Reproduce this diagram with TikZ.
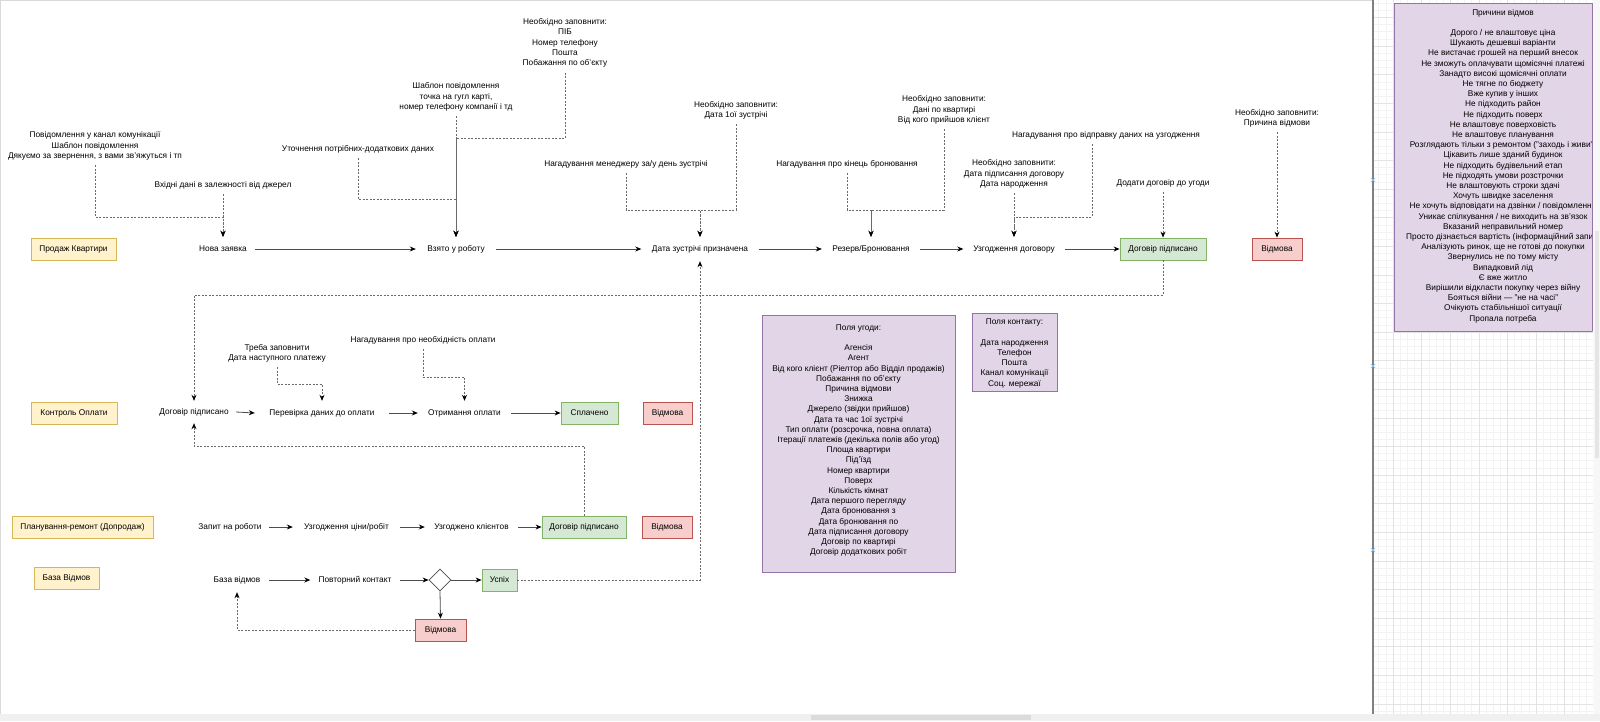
\documentclass[tikz,border=0pt]{standalone}
\usepackage{fontspec}
\setmainfont{Liberation Sans}
\usetikzlibrary{arrows.meta,shapes.geometric,calc}
\definecolor{yfill}{HTML}{FFF2CC}\definecolor{ydraw}{HTML}{D6B656}
\definecolor{gfill}{HTML}{D5E8D4}\definecolor{gdraw}{HTML}{82B366}
\definecolor{rfill}{HTML}{F8CECC}\definecolor{rdraw}{HTML}{B85450}
\definecolor{pfill}{HTML}{E1D5E7}\definecolor{pdraw}{HTML}{9673A6}
\definecolor{lineC}{HTML}{4D4D4D}\definecolor{dashC}{HTML}{6A6A6A}
\definecolor{gridminor}{HTML}{F3F3F3}\definecolor{gridmajor}{HTML}{E3E3E3}
\definecolor{markC}{HTML}{8CC4F0}
\newcommand\myfs{\fontsize{8.3}{10.2}\selectfont}
\begin{document}
\begin{tikzpicture}[x=1pt,y=-1pt,
  txt/.style={font=\myfs, align=center, inner xsep=0pt, inner ysep=5pt},
  lbl/.style={font=\myfs, align=center, inner sep=0pt, minimum height=24pt, text height=6pt, text depth=1.6pt},
  box/.style={font=\myfs, draw, line width=0.8pt, minimum height=22pt, inner sep=0pt, text height=6pt, text depth=1.6pt},
  ybox/.style={box, fill=yfill, draw=ydraw},
  gbox/.style={box, fill=gfill, draw=gdraw},
  rbox/.style={box, fill=rfill, draw=rdraw},
  pbox/.style={font=\myfs, align=center, draw=pdraw, fill=pfill, line width=0.8pt, inner sep=0pt},
  flow/.style={draw=lineC, line width=0.8pt, -{Stealth[length=6pt,width=5pt,color=black]}},
  dflow/.style={draw=dashC, line width=0.8pt, dash pattern=on 2pt off 1.5pt, -{Stealth[length=6pt,width=5pt,color=black]}},
]
\useasboundingbox (0,0) rectangle (1600,721);
\fill[white] (0,0) rectangle (1600,721);

% ---------- right panel grid ----------
\begin{scope}
\clip (1374,0) rectangle (1593,714);
\foreach \i in {-3,...,28} {\draw[gridminor, line width=0.5pt] (1393+\i*7.15,0) -- (1393+\i*7.15,714);}
\foreach \j in {-47,...,55} {\draw[gridminor, line width=0.5pt] (1374,332+\j*7.15) -- (1593,332+\j*7.15);}
\foreach \i in {-1,...,7} {\draw[gridmajor, line width=0.6pt] (1393+\i*28.6,0) -- (1393+\i*28.6,714);}
\foreach \j in {-12,...,14} {\draw[gridmajor, line width=0.6pt] (1374,332+\j*28.6) -- (1593,332+\j*28.6);}
\end{scope}

% frame and scroll bars
\draw[black!15, line width=0.6pt] (0.5,714) -- (0.5,0.5) -- (1373,0.5);
\fill[black!6] (0,714) rectangle (1600,721);
\fill[black!14] (811,715) rectangle (1031,720);
\fill[black!3] (1594,0) rectangle (1600,714);
\fill[black!10] (1595,231) rectangle (1599,458);
\draw[black!50, line width=1.6pt] (1373,0) -- (1373,714);
\foreach \yy in {180,366,550} {
  \draw[markC, line width=0.7pt] (1371,\yy-2) -- (1375,\yy+2) (1371,\yy+2) -- (1375,\yy-2);
}

% ---------- Причини відмов ----------
\begin{scope}
\clip (1374,0) rectangle (1592.5,714);
\draw[pdraw, fill=pfill, line width=0.8pt] (1394,3) rectangle (1620,331);
\node[font=\myfs, align=center, inner sep=0pt] (f3) at (1503,166) {Причини відмов\\[10.2pt]Дорого / не влаштовує ціна\\Шукають дешевші варіанти\\Не вистачає грошей на перший внесок\\Не зможуть оплачувати щомісячні платежі\\Занадто високі щомісячні оплати\\Не тягне по бюджету\\Вже купив у інших\\Не підходить район\\Не підходить поверх\\Не влаштовує поверховість\\Не влаштовує планування\\Розглядають тільки з ремонтом ("заходь і живи")\\Цікавить лише зданий будинок\\Не підходить будівельний етап\\Не підходять умови розстрочки\\Не влаштовують строки здачі\\Хочуть швидке заселення\\Не хочуть відповідати на дзвінки / повідомлення\\Уникає спілкування / не виходить на зв'язок\\Вказаний неправильний номер\\Просто дізнається вартість (інформаційний запит)\\Аналізують ринок, ще не готові до покупки\\Звернулись не по тому місту\\Випадковий лід\\Є вже житло\\Вирішили відкласти покупку через війну\\Бояться війни — "не на часі"\\Очікують стабільнішої ситуації\\Пропала потреба};
\end{scope}
\draw[pdraw, line width=0.8pt] (1592,3) -- (1592,331);

% ---------- row 1: Продаж Квартири ----------
\node[ybox, minimum width=85pt] (L1) at (73.5,249) {Продаж Квартири};
\node[lbl, minimum width=64pt] (n1) at (223,249) {Нова заявка};
\node[lbl, minimum width=80pt] (n2) at (456,249) {Взято у роботу};
\node[lbl, minimum width=117pt] (n3) at (700,249) {Дата зустрічі призначена};
\node[lbl, minimum width=98pt] (n4) at (871,249) {Резерв/Бронювання};
\node[lbl, minimum width=101pt] (n5) at (1014,249) {Узгодження договору};
\node[gbox, minimum width=86pt] (n6) at (1163,249) {Договір підписано};
\node[rbox, minimum width=50pt] (n7) at (1277,249) {Відмова};

\node[txt] (a1) at (95,146) {Повідомлення у канал комунікації\\Шаблон повідомлення\\Дякуємо за звернення, з вами зв'яжуться і тп};
\node[txt] (a2) at (223,185) {Вхідні дані в залежності від джерел};
\node[txt] (a3) at (565,43) {Необхідно заповнити:\\ПІБ\\Номер телефону\\Пошта\\Побажання по об'єкту};
\node[txt] (a4) at (456,97) {Шаблон повідомлення\\точка на гугл карті,\\номер телефону компанії і тд};
\node[txt] (a5) at (358,149) {Уточнення потрібних-додаткових даних};
\node[txt] (a6) at (626,164) {Нагадування менеджеру за/у день зустрічі};
\node[txt] (a7) at (736,110) {Необхідно заповнити:\\Дата 1ої зустрічі};
\node[txt] (a8) at (847,164) {Нагадування про кінець бронювання};
\node[txt] (a9) at (944,110) {Необхідно заповнити:\\Дані по квартирі\\Від кого прийшов клієнт};
\node[txt] (a10) at (1014,174) {Необхідно заповнити:\\Дата підписання договору\\Дата народження};
\node[txt] (a11) at (1106,135) {Нагадування про відправку даних на узгодження};
\node[txt] (a12) at (1163,183) {Додати договір до угоди};
\node[txt] (a13) at (1277,118) {Необхідно заповнити:\\Причина відмови};

\draw[flow] (n1.east) -- (n2.west);
\draw[flow] (n2.east) -- (n3.west);
\draw[flow] (n3.east) -- (n4.west);
\draw[flow] (n4.east) -- (n5.west);
\draw[flow] (n5.east) -- (n6.west);

\draw[dflow] (a1.south) |- (223,217) -- (n1.north);
\draw[dflow] (a2.south) -- (n1.north);
\draw[dflow] (a3.south) |- (456,138) -- (n2.north);
\draw[dflow] (a4.south) -- (n2.north);
\draw[dflow] (a5.south) |- (456,199) -- (n2.north);
\draw[dflow] (a6.south) |- (700,210) -- (n3.north);
\draw[dflow] (a7.south) |- (700,210) -- (n3.north);
\draw[dflow] (a8.south) |- (871,210) -- (n4.north);
\draw[dflow] (a9.south) |- (871,210) -- (n4.north);
\draw[dflow] (a10.south) -- (n5.north);
\draw[dflow] ([xshift=-14pt]a11.south) |- (1014,217) -- (n5.north);
\draw[dflow] (a12.south) -- (n6.north);
\draw[dflow] (a13.south) -- (n7.north);

% ---------- row 2: Контроль Оплати ----------
\node[ybox, minimum width=86pt] (L2) at (74,413) {Контроль Оплати};
\node[lbl, minimum width=84pt, minimum height=22pt] (p1) at (194,412) {Договір підписано};
\node[lbl, minimum width=134pt] (p2) at (322,413) {Перевірка даних до оплати};
\node[lbl, minimum width=93pt] (p3) at (464.5,413) {Отримання оплати};
\node[gbox, minimum width=57pt] (p4) at (589.5,413) {Сплачено};
\node[rbox, minimum width=49pt] (p5) at (667.5,413) {Відмова};

\node[txt] (b1) at (277,353) {Треба заповнити\\Дата наступного платежу};
\node[txt] (b2) at (423,340) {Нагадування про необхідність оплати};

\draw[flow] (p1.east) -- (p2.west);
\draw[flow] (p2.east) -- (p3.west);
\draw[flow] (p3.east) -- (p4.west);
\draw[dflow] (b1.south) |- (322,384) -- (p2.north);
\draw[dflow] (b2.south) |- (464.5,377) -- (p3.north);
\draw[dflow] (n6.south) -- (1163,295) -| (p1.north);

% ---------- row 3: Планування-ремонт ----------
\node[ybox, minimum width=141pt] (L3) at (82.5,527) {Планування-ремонт (Допродаж)};
\node[lbl, minimum width=78pt] (q1) at (230,527) {Запит на роботи};
\node[lbl, minimum width=107pt] (q2) at (346.5,527) {Узгодження ціни/робіт};
\node[lbl, minimum width=93pt] (q3) at (471.5,527) {Узгоджено клієнтов};
\node[gbox, minimum width=84pt] (q4) at (584,527) {Договір підписано};
\node[rbox, minimum width=50pt] (q5) at (667,527) {Відмова};

\draw[flow] (q1.east) -- (q2.west);
\draw[flow] (q2.east) -- (q3.west);
\draw[flow] (q3.east) -- (q4.west);
\coordinate (k1) at (194,446);
\draw[dflow] (q4.north) |- (k1) -- (p1.south);

% ---------- row 4: База Відмов ----------
\node[ybox, minimum width=65pt] (L4) at (66.5,578) {База Відмов};
\node[lbl, minimum width=64pt] (r1) at (237,580) {База відмов};
\node[lbl, minimum width=89pt] (r2) at (355,580) {Повторний контакт};
\node[diamond, draw=lineC, fill=white, line width=0.8pt, minimum width=22pt, minimum height=22pt, inner sep=0pt] (d) at (440,580) {};
\node[gbox, minimum width=35pt] (r3) at (499.5,580) {Успіх};
\node[rbox, minimum width=51pt] (r4) at (440.5,630) {Відмова};

\draw[flow] (r1.east) -- (r2.west);
\draw[flow] (r2.east) -- (d.west);
\draw[flow] (d.east) -- (r3.west);
\draw[flow] (d.south) -- (r4.north);
\draw[dflow] (r4.west) -| (r1.south);
\draw[dflow] (r3.east) -| (n3.south);

% ---------- field lists ----------
\node[pbox, minimum width=193pt, minimum height=257pt] (f1) at (858.5,443.5) {};
\node[font=\myfs, align=center, inner sep=0pt] (f1t) at ([yshift=3pt]f1.center) {Поля угоди:\\[10.2pt]Агенсія\\Агент\\Від кого клієнт (Ріелтор або Відділ продажів)\\Побажання по об'єкту\\Причина відмови\\Знижка\\Джерело (звідки прийшов)\\Дата та час 1ої зустрічі\\Тип оплати (розсрочка, повна оплата)\\Ітерації платежів (декілька полів або угод)\\Площа квартири\\Під'їзд\\Номер квартири\\Поверх\\Кількість кімнат\\Дата першого перегляду\\Дата бронювання з\\Дата бронювання по\\Дата підписання договору\\Договір по квартирі\\Договір додаткових робіт};
\node[pbox, minimum width=85pt, minimum height=78pt] (f2) at (1014.5,352) {};
\node[font=\myfs, align=center, inner sep=0pt] (f2t) at ([yshift=-1.5pt]f2.center) {Поля контакту:\\[10.2pt]Дата народження\\Телефон\\Пошта\\Канал комунікації\\Соц. мережаї};
\end{tikzpicture}
\end{document}
